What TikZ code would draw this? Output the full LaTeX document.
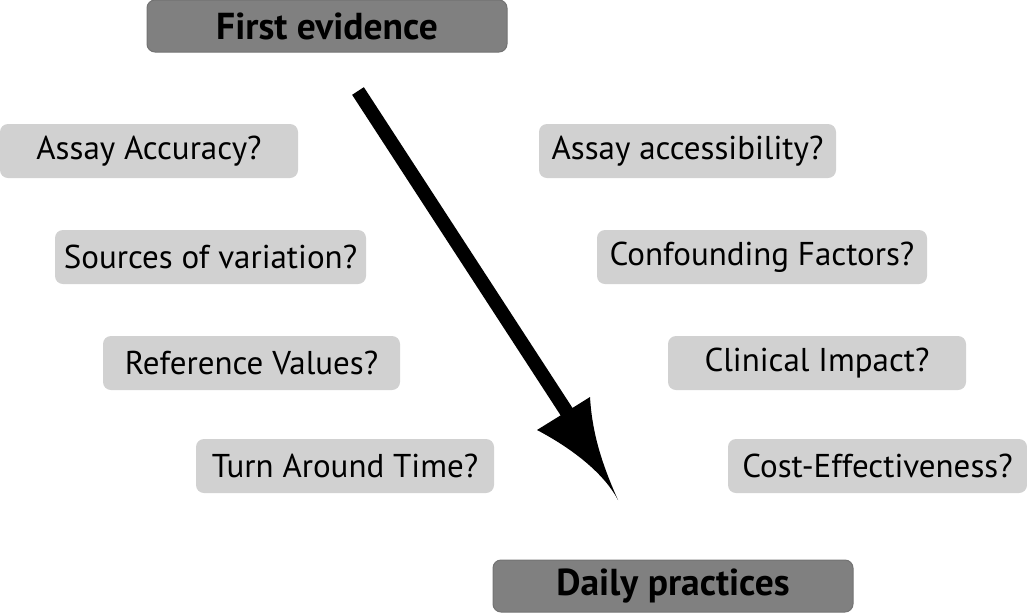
\documentclass[tikz,border=0pt]{standalone}
\usepackage{fontspec}
\setmainfont{PT Sans}
\begin{document}
\begin{tikzpicture}[x=1pt,y=-1pt,
  mainbox/.style={draw=black!55,line width=1pt,fill=black!50,rounded corners=8pt,inner sep=0pt,
    font=\fontsize{37.5}{42}\selectfont\bfseries,text=black},
  qbox/.style={fill=black!18,rounded corners=8pt,inner sep=0pt,
    font=\fontsize{33}{38}\selectfont,text=black}]
\useasboundingbox (0,0) rectangle (1027,614);
\node[mainbox,minimum width=360pt,minimum height=52pt] (first) at (327,26) {First evidence};
\node[mainbox,minimum width=360pt,minimum height=52pt] (daily) at (673,586) {Daily practices};
\node[qbox,minimum width=298pt,minimum height=54pt] (acc) at (149,151) {Assay Accuracy?};
\node[qbox,minimum width=311pt,minimum height=54pt] (src) at (210.5,257) {Sources of variation?};
\node[qbox,minimum width=297pt,minimum height=54pt] (ref) at (251.5,363) {Reference Values?};
\node[qbox,minimum width=298pt,minimum height=54pt] (tat) at (345,466) {Turn Around Time?};
\node[qbox,minimum width=297pt,minimum height=54pt] (acs) at (687.5,151) {Assay accessibility?};
\node[qbox,minimum width=330pt,minimum height=54pt] (conf) at (762,257) {Confounding Factors?};
\node[qbox,minimum width=298pt,minimum height=54pt] (clin) at (817,363) {Clinical Impact?};
\node[qbox,minimum width=299pt,minimum height=54pt] (cost) at (877.5,466) {Cost-Effectiveness?};
\coordinate (s) at (358,91);
\coordinate (e) at (572,420);
\coordinate (tip) at (618,500);
\coordinate (bl) at (537,430);
\coordinate (br) at (590,397);
\draw[line width=14pt] (s) -- (e);
\fill (bl) .. controls (575,450) and (605,475) .. (tip) .. controls (600,460) and (592,430) .. (br) -- (566,412) -- cycle;
\end{tikzpicture}
\end{document}
